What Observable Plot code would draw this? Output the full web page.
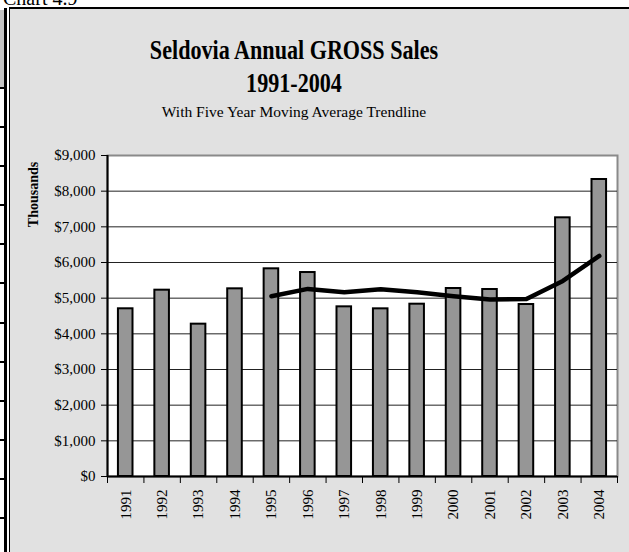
<!DOCTYPE html>
<html>
<head>
<meta charset="utf-8">
<script src="https://cdn.jsdelivr.net/npm/d3@7"></script>
<script src="https://cdn.jsdelivr.net/npm/@observablehq/plot@0.6"></script>
<style>
  html, body { margin: 0; padding: 0; background: #fff; }
  body { width: 629px; height: 552px; position: relative; overflow: hidden; font-family: "Liberation Serif", "Times New Roman", serif; }
  .abs { position: absolute; }
  #area { left: 9px; top: 7px; width: 620px; height: 545px; background: #e1e1e1; border-left: 1px solid #000; border-top: 2px solid #000; }
  .ttl { left: 0; width: 588px; text-align: center; color: #000; white-space: nowrap; transform-origin: 294px 50%; }
  .big { font-size: 28px; line-height: 28px; font-weight: bold; transform: scaleX(0.79); }
  #chart { left: 0; top: 140px; }
</style>
</head>
<body>
<div class="abs" style="left:3px; top:-14px; font-size:20px; line-height:24px;">Chart 4.9</div>
<div class="abs" style="left:0; top:10px; width:4px; height:77px; background:#c4c4c4;"></div>
<div class="abs" style="left:4px; top:8px; width:3px; height:544px; background:#000;"></div>
<div id="strip"></div>
<div id="area" class="abs"></div>
<div class="abs ttl big" style="top:36px;">Seldovia Annual GROSS Sales</div>
<div class="abs ttl big" style="top:69px;">1991-2004</div>
<div class="abs ttl" style="top:104px; font-size:15.5px; line-height:15.5px;">With Five Year Moving Average Trendline</div>
<div id="chart" class="abs"></div>
<script>
// ---- data ----
const years = [1991, 1992, 1993, 1994, 1995, 1996, 1997, 1998, 1999, 2000, 2001, 2002, 2003, 2004];
const sales = [4702, 5224, 4271, 5262, 5823, 5719, 4757, 4701, 4831, 5271, 5243, 4822, 7253, 8327];
const maYears = [1995, 1996, 1997, 1998, 1999, 2000, 2001, 2002, 2003, 2004];
const movingAvg = [5056, 5260, 5166, 5252, 5166, 5056, 4961, 4974, 5484, 6183];
const yTicks = [0, 1000, 2000, 3000, 4000, 5000, 6000, 7000, 8000, 9000];
const stripRows = [87, 126, 165, 204, 243, 282, 322, 361, 400, 439, 478, 517];

// page decoration (table rows at left edge)
const strip = document.getElementById("strip");
for (const y of stripRows) {
  const d = document.createElement("div");
  d.className = "abs";
  d.style.cssText = `left:0;top:${y}px;width:7px;height:2px;background:#000;`;
  strip.appendChild(d);
}

const barData = years.map((year, i) => ({year, sales: sales[i]}));
const maData = maYears.map((year, i) => ({year, avg: movingAvg[i]}));
const bounds = [...years.map(y => y - 0.5), years[years.length - 1] + 0.5];
const half = 0.2;

const chart = Plot.plot({
  width: 629,
  height: 412,
  marginLeft: 107,
  marginRight: 12,
  marginTop: 15,
  marginBottom: 76,
  x: {domain: [years[0] - 0.5, years[years.length - 1] + 0.5]},
  y: {domain: [0, 9000]},
  style: {background: "transparent", fontFamily: "Liberation Serif", fontSize: "15px", color: "#000"},
  marks: [
    Plot.frame({fill: "#fff", stroke: "#8a8a8a", strokeWidth: 2}),
    Plot.ruleY(yTicks.slice(1, -1), {stroke: "#222", strokeWidth: 1}),
    Plot.rectY(barData, {x1: d => d.year - half, x2: d => d.year + half, y: "sales", fill: "#969696", stroke: "#000", strokeWidth: 2}),
    Plot.line(maData, {x: "year", y: "avg", stroke: "#000", strokeWidth: 4.5, strokeLinejoin: "round", strokeLinecap: "round"}),
    Plot.ruleY([0], {stroke: "#000", strokeWidth: 2}),
    Plot.ruleX([years[0] - 0.5], {stroke: "#000", strokeWidth: 2}),
    Plot.axisY({ticks: yTicks, tickFormat: d => "$" + d3.format(",")(d), tickSize: 6, tickPadding: 6, label: null, stroke: "#000"}),
    Plot.axisX({ticks: years, tickFormat: d => String(d), tickSize: 0, tickRotate: -90, tickPadding: 13, label: null}),
    Plot.axisX({ticks: bounds, tickFormat: () => "", tickSize: 7, label: null, stroke: "#000"}),
    Plot.text(["Thousands"], {frameAnchor: "top-left", dx: -74, dy: 39, rotate: -90, fontWeight: "bold", fontSize: 14, textAnchor: "middle", lineAnchor: "middle"})
  ]
});
document.getElementById("chart").appendChild(chart);
</script>
</body>
</html>
